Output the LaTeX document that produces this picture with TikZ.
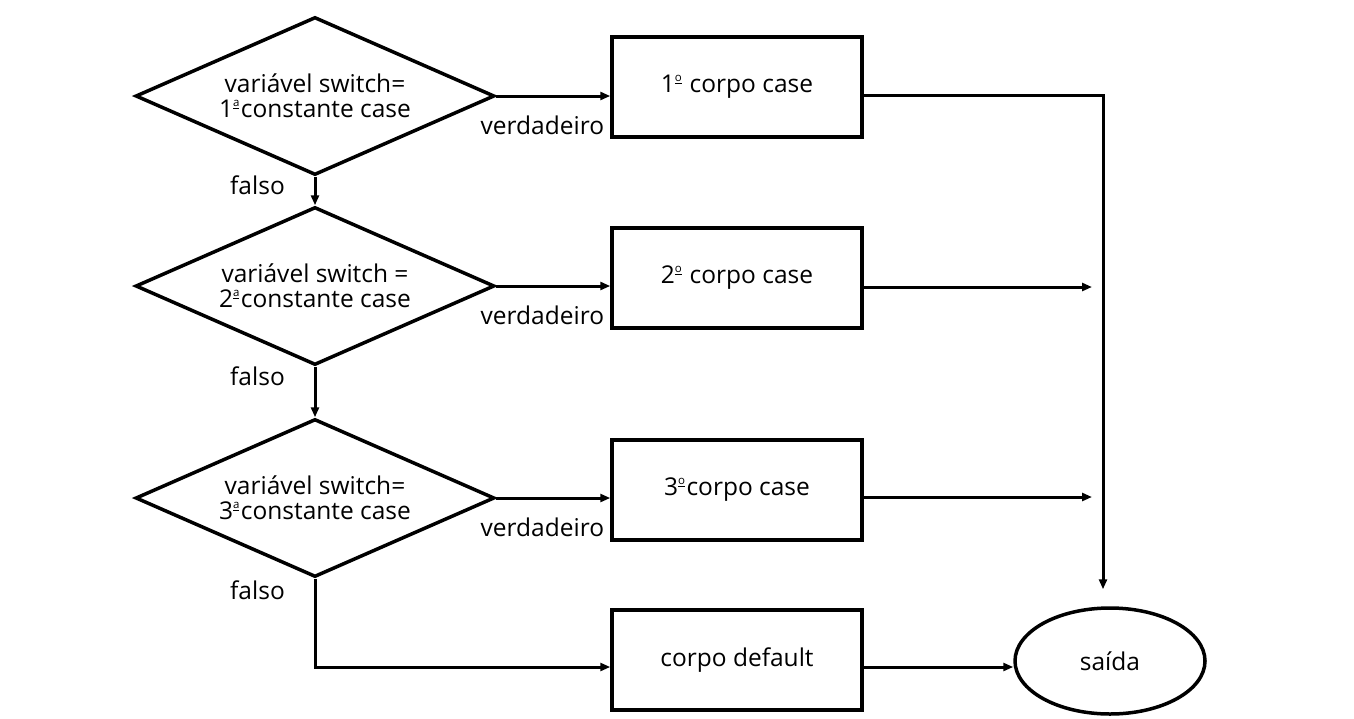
\documentclass[tikz,border=0pt]{standalone}
\usepackage{fontspec}
\setmainfont{Open Sans}
\usetikzlibrary{shapes.geometric,arrows.meta,calc}
\newcommand{\ordsup}[1]{\raisebox{11pt}[0pt][0pt]{\fontsize{11.5}{11.5}\selectfont\underline{#1}}\kern1.5pt}
\begin{document}
\begin{tikzpicture}[x=1pt,y=-1pt,
  font=\fontsize{24.5}{25}\selectfont,
  dec/.style={draw,diamond,shape aspect=2.27,inner sep=0pt,minimum width=359pt,minimum height=158pt,align=center,line width=3.5pt},
  body/.style={draw,rectangle,minimum width=250pt,minimum height=100pt,line width=3.5pt},
  term/.style={draw,ellipse,minimum width=190pt,minimum height=106pt,line width=3.5pt},
  conn/.style={line width=3pt,-{Triangle[length=10pt,width=8pt]}},
  lab/.style={inner sep=0pt}]
\useasboundingbox (0,0) rectangle (1354,718);
\node[dec] (d1) at (315,96) {variável switch=\\1\ordsup{a}constante case};
\node[dec] (d2) at (315,286) {variável switch =\\2\ordsup{a}constante case};
\node[dec] (d3) at (315,498) {variável switch=\\3\ordsup{a}constante case};
\node[body] (b1) at (737,87) {1\ordsup{o}\ corpo case};
\node[body] (b2) at (737,278) {2\ordsup{o}\ corpo case};
\node[body] (b3) at (737,490) {3\ordsup{o}corpo case};
\node[body] (b4) at (737,660) {corpo default};
\node[term] (out) at (1110,661) {saída};
\coordinate (j1) at (1103,95);
\coordinate (j2) at (1092,287);
\coordinate (j3) at (1092,497);
\coordinate (c3) at (315,667);
% true branches
\draw[conn] (d1.east) -- (d1.east -| b1.west);
\draw[conn] (d2.east) -- (d2.east -| b2.west);
\draw[conn] (d3.east) -- (d3.east -| b3.west);
\node[lab,anchor=east] (v1) at ($(d1.east -| b1.west)+(-6,29)$) {verdadeiro};
\node[lab,anchor=east] (v2) at ($(d2.east -| b2.west)+(-6,29)$) {verdadeiro};
\node[lab,anchor=east] (v3) at ($(d3.east -| b3.west)+(-6,29)$) {verdadeiro};
% false branches
\draw[conn] (d1.south) -- (d2.north);
\draw[conn] (d2.south) -- (d3.north);
\draw[conn] (d3.south) -- (c3) -- (c3 -| b4.west);
\node[lab,anchor=east] (f1) at ($(d1.south)+(-30,8)$) {falso};
\node[lab,anchor=east] (f2) at ($(d2.south)+(-30,9)$) {falso};
\node[lab,anchor=east] (f3) at ($(d3.south)+(-30,11)$) {falso};
% exits
\draw[conn,shorten >=17pt] (b1.east |- j1) -- (j1) -- (j1 |- out.north);
\draw[conn] (b2.east |- j2) -- (j2);
\draw[conn] (b3.east |- j3) -- (j3);
\draw[conn] (b4.east |- c3) -- (c3 -| out.west);
\end{tikzpicture}
\end{document}
